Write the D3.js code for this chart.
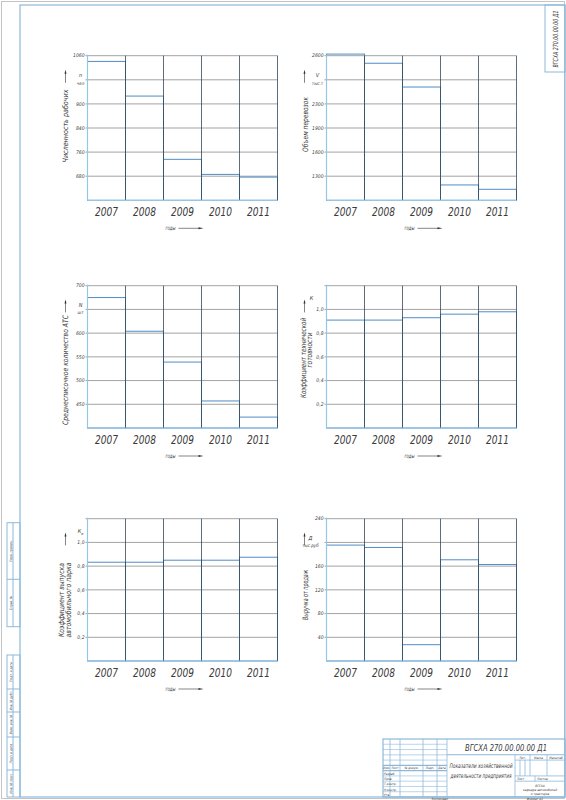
<!DOCTYPE html>
<html>
<head>
<meta charset="utf-8">
<script src="https://cdn.jsdelivr.net/npm/d3@7"></script>
<style>
body { margin: 0; background: #fff; }
svg { display: block; }
text { font-family: 'Liberation Sans Narrow', 'DejaVu Sans Condensed', sans-serif; font-style: italic; fill: #3a3a3a; }
</style>
</head>
<body>
<div id="sheet"></div>
<script>
// years on every chart
const years = ["2007", "2008", "2009", "2010", "2011"];

// Численность рабочих (gridline values are not evenly stepped on the drawing)
const workers = [1041, 926, 736, 686, 677];
const workersTicks = [600, 680, 760, 840, 900, 980, 1060];
const workersLabels = ["", "680", "760", "840", "900", "", "1060"];

// Объем перевозок
const freight = [2610, 2553, 2405, 1191, 1137];
const freightTicks = [1000, 1300, 1600, 1900, 2300, 2450, 2600];
const freightLabels = ["", "1300", "1600", "1900", "2300", "", "2600"];

// Среднесписочное количество АТС
const vehicles = [675, 604, 539, 457, 423];
const vehiclesTicks = [400, 450, 500, 550, 600, 650, 700];
const vehiclesLabels = ["", "450", "500", "550", "600", "", "700"];

// Коэффициенты
const readiness = [0.91, 0.91, 0.93, 0.96, 0.98];
const release = [0.833, 0.833, 0.85, 0.85, 0.875];
const coefTicks = [0, 0.2, 0.4, 0.6, 0.8, 1.0, 1.2];
const coefLabels = ["", "0,2", "0,4", "0,6", "0,8", "1,0", ""];

// Выручка от продаж
const revenue = [195.5, 191.5, 27.5, 170.7, 162.7];
const revenueTicks = [0, 40, 80, 120, 160, 200, 240];
const revenueLabels = ["", "40", "80", "120", "160", "", "240"];

const charts = [
  {values: workers, ticks: workersTicks, labels: workersLabels, title: ["Численность рабочих"], unit: ["n", "чел"], col: 0, row: 0},
  {values: freight, ticks: freightTicks, labels: freightLabels, title: ["Объем перевозок"], unit: ["V", "тыс.т"], col: 1, row: 0},
  {values: vehicles, ticks: vehiclesTicks, labels: vehiclesLabels, title: ["Среднесписочное количество АТС"], unit: ["N", "шт"], col: 0, row: 1},
  {values: readiness, ticks: coefTicks, labels: coefLabels, title: ["Коэффициент технической", "готовности"], unit: ["К"], col: 1, row: 1},
  {values: release, ticks: coefTicks, labels: coefLabels, title: ["Коэффициент выпуска", "автомобильного парка"], unit: ["Кв"], col: 0, row: 2},
  {values: revenue, ticks: revenueTicks, labels: revenueLabels, title: ["Выручка от продаж"], unit: ["Д", "тыс.руб"], col: 1, row: 2}
];

const W = 566, H = 800;
const colX = [87.5, 326.5], plotW = 190;
const rowTop = [55.7, 285.7, 518.7], rowBot = [200.3, 428, 661];
const unitDx = [-7, -9, -7, -15, -7, -16];
// rotated titles: x offset of baseline, centre y, drawn length (per line)
const titleDx = [[-19.5], [-18.5], [-19.5], [-21, -14.5], [-24, -17], [-18.5]];
const titleCy = [[126], [124.5], [370], [358, 350], [600, 600], [595]];
const titleLen = [[73], [55], [110], [80, 35], [74, 75], [50]];

const frameCol = "#8db8da", gridCol = "#8a8a8a", colCol = "#34475a", barCol = "#4f8dc6", axisCol = "#96c6e6";

const fit = (sel, len) => sel.attr("textLength", len).attr("lengthAdjust", "spacingAndGlyphs");

const svg = d3.select("#sheet").append("svg").attr("width", W).attr("height", H);

// sheet border and frame
svg.append("rect").attr("x", 1.5).attr("y", 1.5).attr("width", W - 3).attr("height", H - 3)
  .attr("fill", "none").attr("stroke", "#c4c4c4");
svg.append("rect").attr("x", 20).attr("y", 5).attr("width", 545).attr("height", 792)
  .attr("fill", "none").attr("stroke", frameCol).attr("stroke-width", 1.2);

charts.forEach((c, i) => {
  const x0 = colX[c.col], top = rowTop[c.row], bot = rowBot[c.row];
  const g = svg.append("g");

  const x = d3.scaleBand().domain(years).range([x0, x0 + plotW]).padding(0);
  const y = d3.scaleLinear().domain(c.ticks)
    .range(c.ticks.map((t, k) => bot - k * (bot - top) / (c.ticks.length - 1)));

  // horizontal grid
  g.append("g").selectAll("line").data(c.ticks.slice(1)).join("line")
    .attr("x1", x0 - 2).attr("x2", x0 + plotW)
    .attr("y1", d => y(d)).attr("y2", d => y(d))
    .attr("stroke", gridCol).attr("stroke-width", 0.8);

  // bars: outline rectangles, top edge is the value
  g.append("g").selectAll("rect").data(c.values).join("rect")
    .attr("x", (d, k) => x(years[k]))
    .attr("y", d => y(d))
    .attr("width", x.bandwidth())
    .attr("height", d => bot - y(d))
    .attr("fill", "none").attr("stroke", barCol).attr("stroke-width", 1);

  // column separators
  g.append("g").selectAll("line").data(years.slice(1)).join("line")
    .attr("x1", d => x(d)).attr("x2", d => x(d))
    .attr("y1", top).attr("y2", bot)
    .attr("stroke", colCol).attr("stroke-width", 0.8);
  g.append("line").attr("x1", x0 + plotW).attr("x2", x0 + plotW).attr("y1", top).attr("y2", bot)
    .attr("stroke", colCol).attr("stroke-width", 0.8);

  // left and bottom axis lines
  g.append("line").attr("x1", x0).attr("x2", x0).attr("y1", top - 1).attr("y2", bot)
    .attr("stroke", axisCol).attr("stroke-width", 1.2);
  g.append("line").attr("x1", x0).attr("x2", x0 + plotW).attr("y1", bot).attr("y2", bot)
    .attr("stroke", axisCol).attr("stroke-width", 1.2);

  // tick labels
  g.append("g").selectAll("text").data(c.ticks).join("text")
    .attr("x", x0 - 3).attr("y", d => y(d) + 1.7)
    .attr("text-anchor", "end").attr("font-size", 5)
    .text((d, k) => c.labels[k]);

  // unit label around the second gridline from the top
  const yU = y(c.ticks[c.ticks.length - 2]);
  if (c.unit.length === 2) {
    g.append("text").attr("x", x0 + unitDx[i]).attr("y", yU - 2.5).attr("text-anchor", "middle")
      .attr("font-size", 5.5).text(c.unit[0]);
    g.append("text").attr("x", x0 + unitDx[i]).attr("y", yU + 5).attr("text-anchor", "middle")
      .attr("font-size", 4.5).text(c.unit[1]);
  } else {
    const t = g.append("text").attr("x", x0 + unitDx[i]).attr("y", yU - 9).attr("text-anchor", "middle")
      .attr("font-size", 5.5).text(c.unit[0][0]);
    if (c.unit[0].length > 1) t.append("tspan").attr("font-size", 3.8).attr("dy", 1.5).text(c.unit[0].slice(1));
  }

  // vertical arrow
  const ax = x0 - 22;
  g.append("line").attr("x1", ax).attr("x2", ax).attr("y1", yU + 3).attr("y2", yU - 7)
    .attr("stroke", "#333").attr("stroke-width", 0.6);
  g.append("path").attr("d", `M${ax},${yU - 10}L${ax - 1},${yU - 6}L${ax + 1},${yU - 6}Z`).attr("fill", "#333");

  // axis title (rotated)
  c.title.forEach((t, k) => {
    fit(g.append("text").attr("transform", `translate(${x0 + titleDx[i][k]},${titleCy[i][k]}) rotate(-90)`)
      .attr("text-anchor", "middle").attr("font-size", 7.5).text(t), titleLen[i][k]);
  });

  // year labels
  g.append("g").selectAll("text").data(years).join("text")
    .attr("x", d => x(d) + x.bandwidth() / 2).attr("y", bot + 15.5)
    .attr("text-anchor", "middle").attr("font-size", 12.5).attr("fill", "#222")
    .attr("textLength", 23).attr("lengthAdjust", "spacingAndGlyphs").text(d => d);

  // "годы" with arrow
  const xc = x0 + plotW / 2;
  fit(g.append("text").attr("x", xc - 7).attr("y", bot + 29.5).attr("text-anchor", "end")
    .attr("font-size", 6).text("годы"), 10);
  g.append("line").attr("x1", xc - 4).attr("x2", xc + 17).attr("y1", bot + 28).attr("y2", bot + 28)
    .attr("stroke", "#333").attr("stroke-width", 0.6);
  g.append("path").attr("d", `M${xc + 21},${bot + 28}L${xc + 16},${bot + 27}L${xc + 16},${bot + 29}Z`).attr("fill", "#333");
});

// top-right designation stamp
svg.append("rect").attr("x", 545).attr("y", 5).attr("width", 20).attr("height", 67)
  .attr("fill", "none").attr("stroke", frameCol);
fit(svg.append("text").attr("transform", "translate(557.5,39) rotate(-90)").attr("text-anchor", "middle")
  .attr("font-size", 7).text("ВГСХА 270.00.00.00 Д1"), 57);

// left margin strip
const strip = [
  {ys: [522.7, 579.3, 626.7], labels: ["Перв. примен.", "Справ. №"]},
  {ys: [655, 689, 712, 737, 770, 797], labels: ["Подп. и дата", "Инв. № дубл.", "Взам. инв. №", "Подп. и дата", "Инв. № подл."]}
];
strip.forEach(s => {
  const y0 = s.ys[0], y1 = s.ys[s.ys.length - 1];
  svg.append("rect").attr("x", 7).attr("y", y0).attr("width", 13).attr("height", y1 - y0)
    .attr("fill", "none").attr("stroke", frameCol);
  svg.append("line").attr("x1", 13).attr("x2", 13).attr("y1", y0).attr("y2", y1).attr("stroke", frameCol);
  s.ys.slice(1, -1).forEach(v => svg.append("line").attr("x1", 7).attr("x2", 20).attr("y1", v).attr("y2", v).attr("stroke", frameCol));
  s.labels.forEach((l, k) => {
    svg.append("text").attr("transform", `translate(11.5,${(s.ys[k] + s.ys[k + 1]) / 2}) rotate(-90)`)
      .attr("text-anchor", "middle").attr("font-size", 3.2).text(l);
  });
});

// title block
const tb = {x0: 383, y0: 739, x1: 565, y1: 797};
const rh = (tb.y1 - tb.y0) / 11;
const tbg = svg.append("g").attr("stroke", frameCol).attr("fill", "none").attr("stroke-width", 0.8);
tbg.append("rect").attr("x", tb.x0).attr("y", tb.y0).attr("width", tb.x1 - tb.x0).attr("height", tb.y1 - tb.y0).attr("stroke-width", 1.2);
[390, 400, 423, 437, 447].forEach(v => tbg.append("line").attr("x1", v).attr("x2", v).attr("y1", tb.y0).attr("y2", tb.y1));
for (let k = 1; k < 11; k++) {
  tbg.append("line").attr("x1", tb.x0).attr("x2", 447).attr("y1", tb.y0 + k * rh).attr("y2", tb.y0 + k * rh)
    .attr("stroke-width", k === 5 || k === 6 ? 1.1 : 0.6);
}
tbg.append("line").attr("x1", 447).attr("x2", tb.x1).attr("y1", tb.y0 + 3 * rh).attr("y2", tb.y0 + 3 * rh).attr("stroke-width", 1.1);
tbg.append("line").attr("x1", 515).attr("x2", 515).attr("y1", tb.y0 + 3 * rh).attr("y2", tb.y1);
tbg.append("line").attr("x1", 515).attr("x2", tb.x1).attr("y1", tb.y0 + 4 * rh).attr("y2", tb.y0 + 4 * rh);
tbg.append("line").attr("x1", 515).attr("x2", tb.x1).attr("y1", tb.y0 + 7 * rh).attr("y2", tb.y0 + 7 * rh);
tbg.append("line").attr("x1", 515).attr("x2", tb.x1).attr("y1", tb.y0 + 8 * rh).attr("y2", tb.y0 + 8 * rh);
[520, 525].forEach(v => tbg.append("line").attr("x1", v).attr("x2", v).attr("y1", tb.y0 + 4 * rh).attr("y2", tb.y0 + 7 * rh));
[530, 547].forEach(v => tbg.append("line").attr("x1", v).attr("x2", v).attr("y1", tb.y0 + 3 * rh).attr("y2", tb.y0 + 7 * rh));
tbg.append("line").attr("x1", 535).attr("x2", 535).attr("y1", tb.y0 + 7 * rh).attr("y2", tb.y0 + 8 * rh);

const small = (t, x, y, anchor) => svg.append("text").attr("x", x).attr("y", y)
  .attr("text-anchor", anchor || "middle").attr("font-size", 3.2).text(t);
const hy = tb.y0 + 6 * rh - 1.2;
small("Изм.", 386.5, hy); small("Лист", 395, hy); small("№ докум.", 411.5, hy);
small("Подп.", 430, hy); small("Дата", 442, hy);
["Разраб.", "Пров.", "Т.контр.", "Н.контр.", "Утв."].forEach((t, k) => small(t, 384, tb.y0 + (7 + k) * rh - 1.2, "start"));
small("Лит.", 522.5, tb.y0 + 4 * rh - 1.2); small("Масса", 538.5, tb.y0 + 4 * rh - 1.2); small("Масштаб", 556, tb.y0 + 4 * rh - 1.2);
small("Лист", 517, tb.y0 + 8 * rh - 1.2, "start"); small("Листов", 537, tb.y0 + 8 * rh - 1.2, "start");
small("ВГСХА", 540, 787); small("кафедра автомобилей", 540, 791); small("и тракторов", 540, 795);
small("Копировал", 440, 799.6); small("Формат А1", 535, 799.6);

fit(svg.append("text").attr("x", 506).attr("y", 751).attr("text-anchor", "middle").attr("font-size", 8.5).text("ВГСХА 270.00.00.00 Д1"), 82);
fit(svg.append("text").attr("x", 481).attr("y", 768).attr("text-anchor", "middle").attr("font-size", 6.3).text("Показатели хозяйственной"), 63);
fit(svg.append("text").attr("x", 481).attr("y", 777.5).attr("text-anchor", "middle").attr("font-size", 6.3).text("деятельности предприятия"), 61);
</script>
</body>
</html>
